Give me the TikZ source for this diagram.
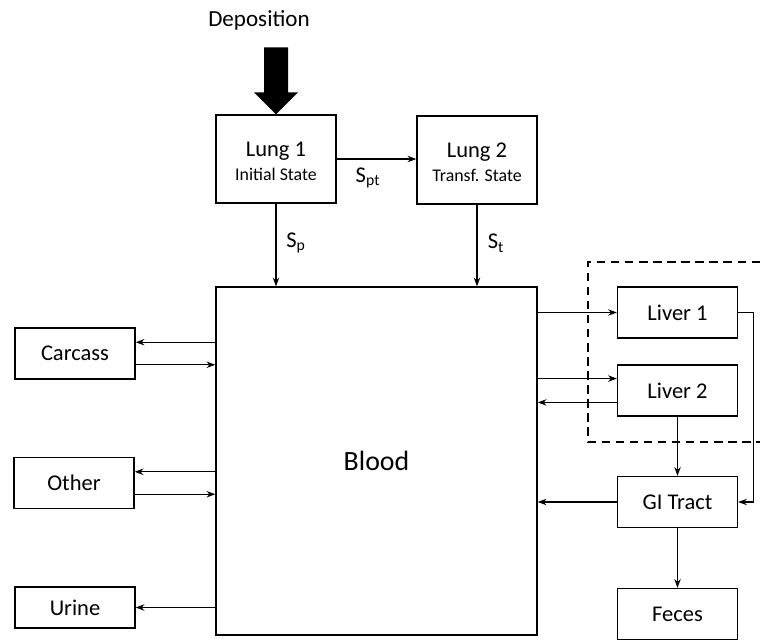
\documentclass[tikz,border=0pt]{standalone}
\usepackage{fontspec}
\setmainfont{Carlito}
\usetikzlibrary{arrows.meta}
\usetikzlibrary{positioning,calc}
\tikzset{
    box/.style={
        draw,
        rectangle,
        line width=0.9pt,
        minimum width=3cm,
        minimum height=1.275cm,
        inner sep=0pt,
        font=\fontsize{16}{19}\selectfont
    },
    flow/.style={
        draw,
        -{Stealth[length=2.2mm, width=1.6mm]},
        line width=0.8pt
    },
    lbl/.style={
        inner sep=0pt,
        font=\fontsize{16}{19}\selectfont
    }
}

\begin{document}
\begin{tikzpicture}[x=0.025cm, y=-0.025cm]
    \useasboundingbox (0,0) rectangle (760,642);

    % lungs
    \node[box, minimum height=2.2cm, align=center] (lung1) at (276,159) {\\[-6pt]Lung 1\\[-2pt]{\fontsize{12.7}{14}\selectfont Initial State}};
    \node[box, minimum height=2.2cm, align=center] (lung2) at (477,160) {\\[-6pt]Lung 2\\[-2pt]{\fontsize{12.7}{14}\selectfont Transf. State}};
    \node[lbl, font=\fontsize{16.4}{19}\selectfont] (dep) at (259,20) {Deposition};

    % central compartment
    \node[box, minimum width=8.025cm, minimum height=8.7cm, font=\fontsize{19.8}{23}\selectfont] (blood) at (376.5,461) {Blood};

    % left side
    \node[box] (carcass) at (75,353.5) {Carcass};
    \node[box] (other) at (74,483) {Other};
    \node[box, minimum height=1.025cm] (urine) at (75,607.5) {Urine};

    % right side
    \node[box] (liver1) at (677.5,312.5) {Liver 1};
    \node[box] (liver2) at (677.5,390.5) {Liver 2};
    \node[box] (gi) at (677.5,502) {GI Tract};
    \node[box] (feces) at (677.5,614) {Feces};

    % deposition arrow
    \fill (lung1.north) -- ++(-22,-22) -- ++(10,0) -- ++(0,-45) -- ++(24,0)
        -- ++(0,45) -- ++(10,0) -- cycle;

    % lung transfers
    \draw[flow] (lung1.east) -- (lung1.east -| lung2.west);
    \draw[flow] (lung1.south) -- (lung1.south |- blood.north);
    \draw[flow] (lung2.south) -- (lung2.south |- blood.north);
    \node[lbl] (spt) at (368,178) {S\textsubscript{pt}};
    \node[lbl] (sp) at (296,243) {S\textsubscript{p}};
    \node[lbl] (st) at (496,243) {S\textsubscript{t}};

    % exchange with blood
    \foreach \n in {carcass, other} {
        \draw[flow] ([yshift=8pt]\n.east -| blood.west) -- ([yshift=8pt]\n.east);
        \draw[flow] ([yshift=-8pt]\n.east) -- ([yshift=-8pt]\n.east -| blood.west);
    }
    \draw[flow] (urine.east -| blood.west) -- (urine.east);

    \draw[flow] (liver1.west -| blood.east) -- (liver1.west);
    \draw[flow] ([yshift=8.5pt]liver2.west -| blood.east) -- ([yshift=8.5pt]liver2.west);
    \draw[flow] ([yshift=-8.5pt]liver2.west) -- ([yshift=-8.5pt]liver2.west -| blood.east);
    \draw[flow] (gi.west) -- (gi.west -| blood.east);

    \draw[flow] (liver1.east) -- ++(15,0) |- (gi.east);
    \draw[flow] (liver2.south) -- (gi.north);
    \draw[flow] (gi.south) -- (feces.north);

    % liver group
    \draw[dashed, line width=0.9pt, dash pattern=on 6pt off 4pt] (760,262) -| (588,442) -- (760,442);
\end{tikzpicture}
\end{document}
